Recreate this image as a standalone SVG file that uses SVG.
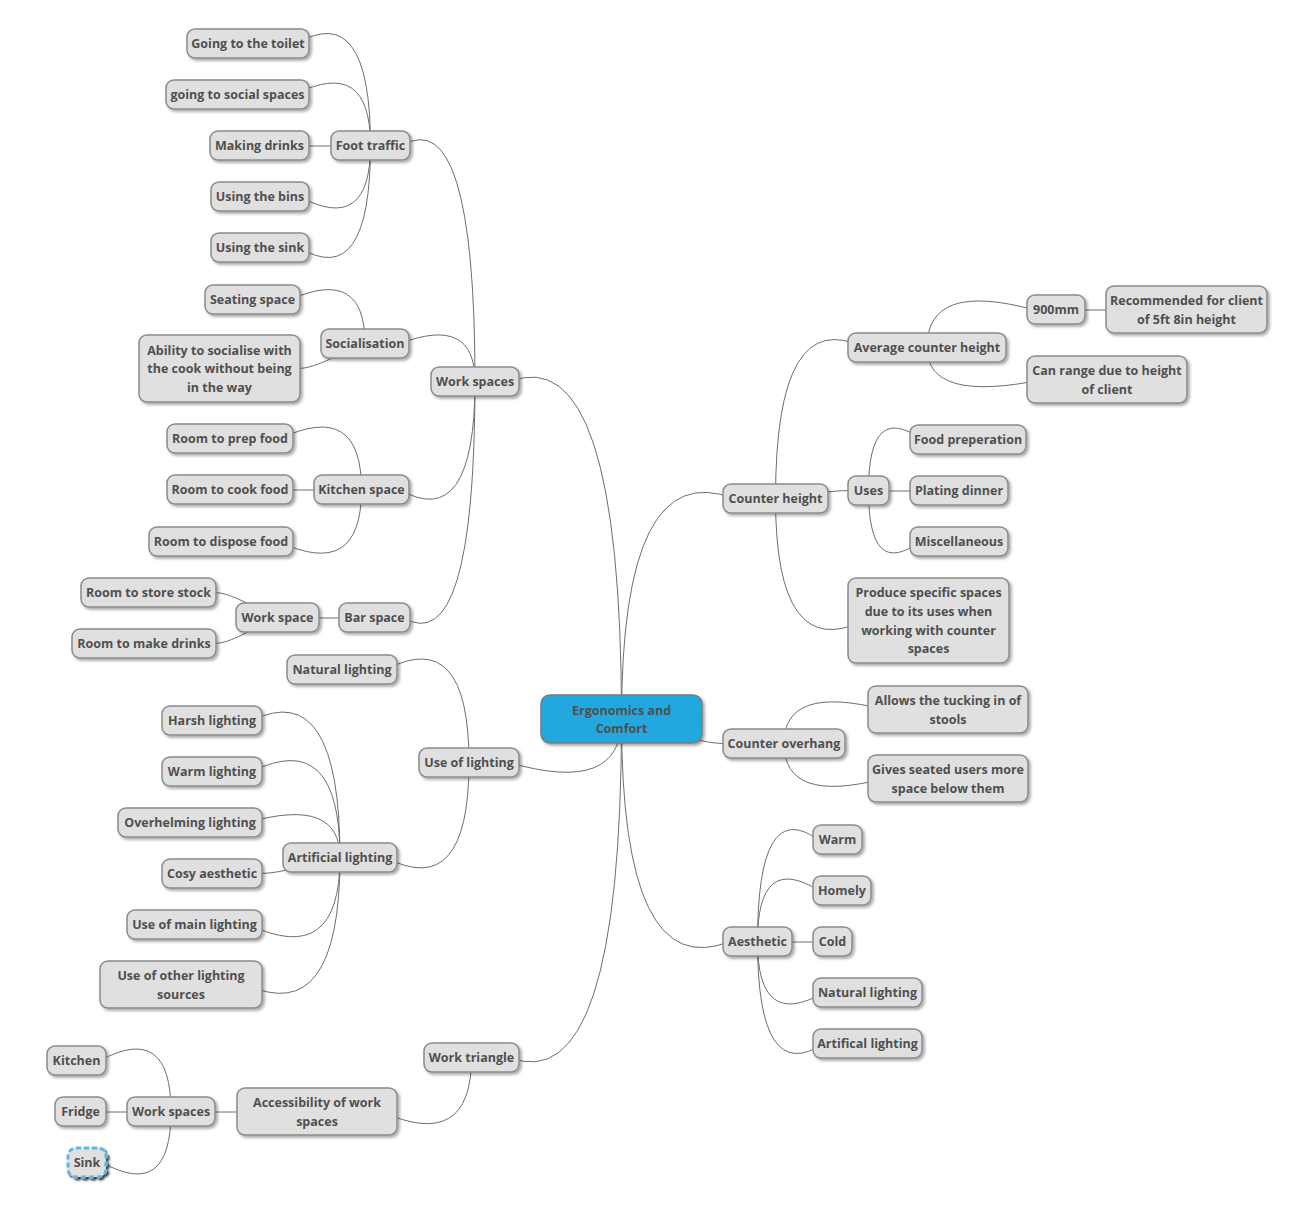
<svg xmlns="http://www.w3.org/2000/svg" width="1299" height="1205" viewBox="0 0 1299 1205">
<defs>
<filter id="sh" x="-20%" y="-20%" width="140%" height="150%">
<feDropShadow dx="2" dy="2" stdDeviation="1.5" flood-color="#000" flood-opacity="0.35"/>
</filter>
<filter id="shs" x="-30%" y="-30%" width="160%" height="170%">
<feDropShadow dx="2" dy="2" stdDeviation="1.2" flood-color="#000" flood-opacity="0.8"/>
</filter>
<style>
.n rect{fill:#e0e0e0;stroke:#8a8a8a;stroke-width:1.5;filter:url(#sh)}
.n text,.c text{font-family:"Open Sans","DejaVu Sans",sans-serif;font-weight:700;font-size:12.5px;fill:#4f4f4f;text-anchor:middle}
.c rect{fill:#22a7df;stroke:#7a7a7a;stroke-width:1.5;filter:url(#sh)}
#sink rect{stroke:#5bb8e6;stroke-width:3;stroke-dasharray:5 3;filter:url(#shs)}
#connectors path{fill:none;stroke:#6e6e6e;stroke-width:1}
</style>
</defs>
<rect width="1299" height="1205" fill="#ffffff"/>
<g id="connectors">
<path d="M621.5,719 Q621.5,455 733.5,498.5"/>
<path d="M621.5,719 C662.1,728.8 697.6,743.5 725,743.5"/>
<path d="M621.5,719 Q621.5,985 729.9,941.5"/>
<path d="M621.5,719 Q621.5,338 510.2,381.5"/>
<path d="M621.5,719 Q621.5,795.1 509,762.5"/>
<path d="M621.5,719 Q621.5,1101 509.5,1057.5"/>
<path d="M775.5,498.5 Q775.5,304 863.8,347.5"/>
<path d="M775.5,498.5 C804.5,495.3 829.9,490.5 850,490.5"/>
<path d="M775.5,498.5 Q775.5,664 864.1,620.5"/>
<path d="M927,347.5 Q927,281 1032.8,309.5"/>
<path d="M927,347.5 Q927,403.5 1043,379.5"/>
<path d="M1085,310 L1106,310"/>
<path d="M868.5,490.5 Q868.5,401.25 921.6,439.5"/>
<path d="M889,491 L910,491"/>
<path d="M868.5,490.5 Q868.5,579.75 919.8,541.5"/>
<path d="M784,743.5 Q784,684 884,709.5"/>
<path d="M784,743.5 Q784,804.75 884,778.5"/>
<path d="M757.5,941.5 Q757.5,796 817.9,839.5"/>
<path d="M757.5,941.5 Q757.5,852.25 818.8,890.5"/>
<path d="M792,942 L813,942"/>
<path d="M757.5,941.5 Q757.5,1030.75 823.9,992.5"/>
<path d="M757.5,941.5 Q757.5,1087 823.9,1043.5"/>
<path d="M475,381.5 Q475,102 402.1,145.5"/>
<path d="M475,381.5 Q475,315 400.2,343.5"/>
<path d="M475,381.5 Q475,533 399.5,489.5"/>
<path d="M475,381.5 Q475,661 402.9,617.5"/>
<path d="M370.5,145.5 Q370.5,0 296.8,43.5"/>
<path d="M370.5,145.5 Q370.5,56.25 294.7,94.5"/>
<path d="M309,146 L331,146"/>
<path d="M370.5,145.5 Q370.5,234.75 299.2,196.5"/>
<path d="M370.5,145.5 Q370.5,291 299.2,247.5"/>
<path d="M365,343.5 Q365,266.5 290.5,299.5"/>
<path d="M365,343.5 C339,353.5 316.25,368.5 298,368.5"/>
<path d="M361.5,489.5 Q361.5,400.25 280.4,438.5"/>
<path d="M293,490 L314,490"/>
<path d="M361.5,489.5 Q361.5,580.5 278.6,541.5"/>
<path d="M319,618 L339,618"/>
<path d="M277.5,617.5 C252.9,607.5 231.4,592.5 214,592.5"/>
<path d="M277.5,617.5 C252.9,627.9 231.4,643.5 214,643.5"/>
<path d="M469,762.5 Q469,626 386,669.5"/>
<path d="M469,762.5 Q469,901 385.6,857.5"/>
<path d="M340,857.5 Q340,677 252,720.5"/>
<path d="M340,857.5 Q340,728 252,771.5"/>
<path d="M340,857.5 Q340,796.25 247.6,822.5"/>
<path d="M340,857.5 C308.8,863.9 281.5,873.5 260,873.5"/>
<path d="M340,857.5 Q340,968 248.5,924.5"/>
<path d="M340,857.5 Q340,1028 245.8,984.5"/>
<path d="M471.5,1057.5 Q471.5,1152 381,1111.5"/>
<path d="M215,1112 L237,1112"/>
<path d="M171,1111.5 Q171,1022.25 100.1,1060.5"/>
<path d="M106,1112 L127,1112"/>
<path d="M171,1111.5 Q171,1200.75 102.2,1162.5"/>
</g>

<g id="center" class="c"><rect x="541" y="695" width="161" height="48" rx="9"/><text x="621.5" y="714.5">Ergonomics and</text><text x="621.5" y="733.1">Comfort</text></g>

<g id="counter-height" class="n"><rect x="723" y="484" width="105" height="29" rx="8"/><text x="775.5" y="503.2">Counter height</text></g>
<g id="avg-height" class="n"><rect x="848" y="333" width="158" height="29" rx="8"/><text x="927" y="352.2">Average counter height</text></g>
<g id="n900mm" class="n"><rect x="1027" y="295" width="58" height="29" rx="8"/><text x="1056" y="314.2">900mm</text></g>
<g id="recommended" class="n"><rect x="1106" y="286" width="161" height="47" rx="8"/><text x="1186.5" y="305">Recommended for client</text><text x="1186.5" y="323.6">of 5ft 8in height</text></g>
<g id="can-range" class="n"><rect x="1027" y="356" width="160" height="47" rx="8"/><text x="1107" y="375">Can range due to height</text><text x="1107" y="393.6">of client</text></g>
<g id="uses" class="n"><rect x="848" y="476" width="41" height="29" rx="8"/><text x="868.5" y="495.2">Uses</text></g>
<g id="food-prep" class="n"><rect x="910" y="425" width="116" height="29" rx="8"/><text x="968" y="444.2">Food preperation</text></g>
<g id="plating" class="n"><rect x="910" y="476" width="98" height="29" rx="8"/><text x="959" y="495.2">Plating dinner</text></g>
<g id="misc" class="n"><rect x="910" y="527" width="98" height="29" rx="8"/><text x="959" y="546.2">Miscellaneous</text></g>
<g id="produce" class="n"><rect x="848" y="578" width="161" height="85" rx="8"/><text x="928.5" y="597.4">Produce specific spaces</text><text x="928.5" y="616">due to its uses when</text><text x="928.5" y="634.6">working with counter</text><text x="928.5" y="653.2">spaces</text></g>
<g id="counter-overhang" class="n"><rect x="723" y="729" width="122" height="29" rx="8"/><text x="784" y="748.2">Counter overhang</text></g>
<g id="allows" class="n"><rect x="868" y="686" width="160" height="47" rx="8"/><text x="948" y="705">Allows the tucking in of</text><text x="948" y="723.6">stools</text></g>
<g id="gives" class="n"><rect x="868" y="755" width="160" height="47" rx="8"/><text x="948" y="774">Gives seated users more</text><text x="948" y="792.6">space below them</text></g>
<g id="aesthetic" class="n"><rect x="723" y="927" width="69" height="29" rx="8"/><text x="757.5" y="946.2">Aesthetic</text></g>
<g id="warm" class="n"><rect x="813" y="825" width="49" height="29" rx="8"/><text x="837.5" y="844.2">Warm</text></g>
<g id="homely" class="n"><rect x="813" y="876" width="58" height="29" rx="8"/><text x="842" y="895.2">Homely</text></g>
<g id="cold" class="n"><rect x="813" y="927" width="39" height="29" rx="8"/><text x="832.5" y="946.2">Cold</text></g>
<g id="natural-lighting-r" class="n"><rect x="813" y="978" width="109" height="29" rx="8"/><text x="867.5" y="997.2">Natural lighting</text></g>
<g id="artifical-lighting-r" class="n"><rect x="813" y="1029" width="109" height="29" rx="8"/><text x="867.5" y="1048.2">Artifical lighting</text></g>

<g id="work-spaces" class="n"><rect x="431" y="367" width="88" height="29" rx="8"/><text x="475" y="386.2">Work spaces</text></g>
<g id="foot-traffic" class="n"><rect x="331" y="131" width="79" height="29" rx="8"/><text x="370.5" y="150.2">Foot traffic</text></g>
<g id="toilet" class="n"><rect x="187" y="29" width="122" height="29" rx="8"/><text x="248" y="48.2">Going to the toilet</text></g>
<g id="social" class="n"><rect x="166" y="80" width="143" height="29" rx="8"/><text x="237.5" y="99.2">going to social spaces</text></g>
<g id="drinks" class="n"><rect x="210" y="131" width="99" height="29" rx="8"/><text x="259.5" y="150.2">Making drinks</text></g>
<g id="bins" class="n"><rect x="211" y="182" width="98" height="29" rx="8"/><text x="260" y="201.2">Using the bins</text></g>
<g id="sink-use" class="n"><rect x="211" y="233" width="98" height="29" rx="8"/><text x="260" y="252.2">Using the sink</text></g>
<g id="socialisation" class="n"><rect x="321" y="329" width="88" height="29" rx="8"/><text x="365" y="348.2">Socialisation</text></g>
<g id="seating" class="n"><rect x="205" y="285" width="95" height="29" rx="8"/><text x="252.5" y="304.2">Seating space</text></g>
<g id="ability" class="n"><rect x="139" y="335" width="161" height="67" rx="8"/><text x="219.5" y="354.7">Ability to socialise with</text><text x="219.5" y="373.3">the cook without being</text><text x="219.5" y="391.9">in the way</text></g>
<g id="kitchen-space" class="n"><rect x="314" y="475" width="95" height="29" rx="8"/><text x="361.5" y="494.2">Kitchen space</text></g>
<g id="prep" class="n"><rect x="167" y="424" width="126" height="29" rx="8"/><text x="230" y="443.2">Room to prep food</text></g>
<g id="cook" class="n"><rect x="167" y="475" width="126" height="29" rx="8"/><text x="230" y="494.2">Room to cook food</text></g>
<g id="dispose" class="n"><rect x="149" y="527" width="144" height="29" rx="8"/><text x="221" y="546.2">Room to dispose food</text></g>
<g id="bar-space" class="n"><rect x="339" y="603" width="71" height="29" rx="8"/><text x="374.5" y="622.2">Bar space</text></g>
<g id="work-space" class="n"><rect x="236" y="603" width="83" height="29" rx="8"/><text x="277.5" y="622.2">Work space</text></g>
<g id="store-stock" class="n"><rect x="81" y="578" width="135" height="29" rx="8"/><text x="148.5" y="597.2">Room to store stock</text></g>
<g id="make-drinks" class="n"><rect x="72" y="629" width="144" height="29" rx="8"/><text x="144" y="648.2">Room to make drinks</text></g>
<g id="use-lighting" class="n"><rect x="419" y="748" width="100" height="29" rx="8"/><text x="469" y="767.2">Use of lighting</text></g>
<g id="natural-lighting-l" class="n"><rect x="287" y="655" width="110" height="29" rx="8"/><text x="342" y="674.2">Natural lighting</text></g>
<g id="artificial-lighting-l" class="n"><rect x="283" y="843" width="114" height="29" rx="8"/><text x="340" y="862.2">Artificial lighting</text></g>
<g id="harsh" class="n"><rect x="162" y="706" width="100" height="29" rx="8"/><text x="212" y="725.2">Harsh lighting</text></g>
<g id="warm-lighting" class="n"><rect x="162" y="757" width="100" height="29" rx="8"/><text x="212" y="776.2">Warm lighting</text></g>
<g id="overhelming" class="n"><rect x="118" y="808" width="144" height="29" rx="8"/><text x="190" y="827.2">Overhelming lighting</text></g>
<g id="cosy" class="n"><rect x="162" y="859" width="100" height="29" rx="8"/><text x="212" y="878.2">Cosy aesthetic</text></g>
<g id="main-lighting" class="n"><rect x="127" y="910" width="135" height="29" rx="8"/><text x="194.5" y="929.2">Use of main lighting</text></g>
<g id="other-lighting" class="n"><rect x="100" y="961" width="162" height="47" rx="8"/><text x="181" y="980">Use of other lighting</text><text x="181" y="998.6">sources</text></g>
<g id="work-triangle" class="n"><rect x="424" y="1043" width="95" height="29" rx="8"/><text x="471.5" y="1062.2">Work triangle</text></g>
<g id="accessibility" class="n"><rect x="237" y="1088" width="160" height="47" rx="8"/><text x="317" y="1107">Accessibility of work</text><text x="317" y="1125.6">spaces</text></g>
<g id="work-spaces-2" class="n"><rect x="127" y="1097" width="88" height="29" rx="8"/><text x="171" y="1116.2">Work spaces</text></g>
<g id="kitchen" class="n"><rect x="47" y="1046" width="59" height="29" rx="8"/><text x="76.5" y="1065.2">Kitchen</text></g>
<g id="fridge" class="n"><rect x="55" y="1097" width="51" height="29" rx="8"/><text x="80.5" y="1116.2">Fridge</text></g>
<g id="sink" class="n"><rect x="68" y="1148" width="38" height="29" rx="8"/><text x="87" y="1167.2">Sink</text></g>
</svg>
